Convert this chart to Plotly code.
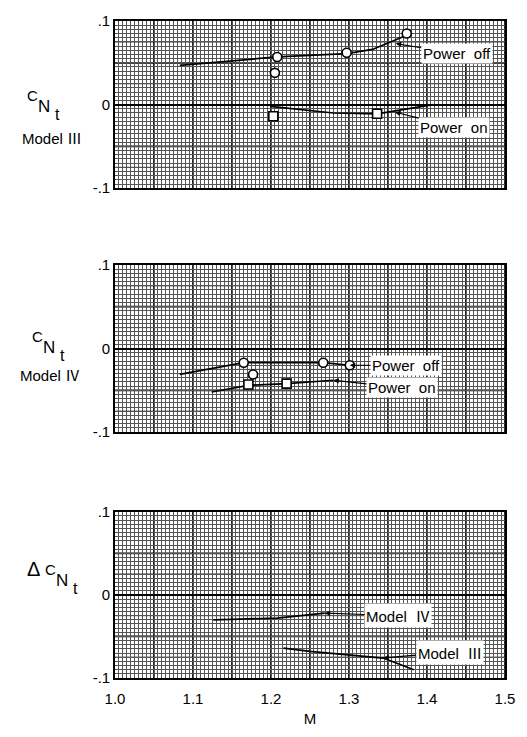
import numpy as np
import plotly.graph_objects as go

# ---------------- data ----------------
# Model III (top panel)
m3_off_line_M = [1.083, 1.13, 1.208, 1.297, 1.33, 1.374]
m3_off_line_C = [0.047, 0.051, 0.057, 0.061, 0.066, 0.083]
m3_off_pts_M = [1.208, 1.205, 1.297, 1.374]
m3_off_pts_C = [0.057, 0.038, 0.062, 0.085]
m3_on_line_M = [1.199, 1.237, 1.28, 1.336, 1.37, 1.408]
m3_on_line_C = [-0.002, -0.006, -0.010, -0.011, -0.006, 0.000]
m3_on_pts_M = [1.203, 1.336]
m3_on_pts_C = [-0.014, -0.011]

# Model IV (middle panel)
m4_off_line_M = [1.083, 1.10, 1.165, 1.267, 1.301]
m4_off_line_C = [-0.031, -0.028, -0.017, -0.017, -0.020]
m4_off_pts_M = [1.165, 1.177, 1.267, 1.301]
m4_off_pts_C = [-0.017, -0.031, -0.017, -0.020]
m4_on_line_M = [1.124, 1.171, 1.22, 1.28]
m4_on_line_C = [-0.052, -0.044, -0.042, -0.038]
m4_on_pts_M = [1.171, 1.22]
m4_on_pts_C = [-0.043, -0.042]

# Delta (bottom panel)
d4_M = [1.126, 1.208, 1.269]
d4_C = [-0.030, -0.028, -0.022]
d3_M = [1.216, 1.25, 1.344, 1.383]
d3_C = [-0.064, -0.068, -0.076, -0.090]

x_ticks = [1.0, 1.1, 1.2, 1.3, 1.4, 1.5]
x_tick_text = ["1.0", "1.1", "1.2", "1.3", "1.4", "1.5"]
y_ticks = [-0.1, 0.0, 0.1]
y_tick_text = ["-.1", "0", ".1"]

# ---------------- layout helpers ----------------
FONT = "Liberation Sans, Arial, sans-serif"
W, H = 527, 737
ML, MR, MT, MB = 115, 22, 20, 57
pw = W - ML - MR
ph = H - MT - MB
FINE = "#555555"


def pdom(top_px, bot_px):
    return [(H - MB - bot_px) / ph, (H - MB - top_px) / ph]


domains = [pdom(20, 188), pdom(265, 433), pdom(513, 680)]
axk = ["", "2", "3"]

fig = go.Figure()


def line(xs, ys, k):
    fig.add_trace(go.Scatter(x=xs, y=ys, mode="lines", xaxis=f"x{k}", yaxis=f"y{k}",
                             line=dict(color="black", width=1.7), showlegend=False,
                             hoverinfo="skip"))


def pts(xs, ys, k, sym):
    fig.add_trace(go.Scatter(x=xs, y=ys, mode="markers", xaxis=f"x{k}", yaxis=f"y{k}",
                             marker=dict(symbol=sym, size=9, color="white",
                                         line=dict(color="black", width=1.6)),
                             showlegend=False, hoverinfo="skip"))


line(m3_off_line_M, m3_off_line_C, "")
line(m3_on_line_M, m3_on_line_C, "")
pts(m3_off_pts_M, m3_off_pts_C, "", "circle")
pts(m3_on_pts_M, m3_on_pts_C, "", "square")

line(m4_off_line_M, m4_off_line_C, "2")
line(m4_on_line_M, m4_on_line_C, "2")
pts(m4_off_pts_M, m4_off_pts_C, "2", "circle")
pts(m4_on_pts_M, m4_on_pts_C, "2", "square")

line(d4_M, d4_C, "3")
line(d3_M, d3_C, "3")

for i, dom in enumerate(domains):
    k = axk[i]
    bottom = (i == 2)
    xa = dict(range=[1.0, 1.5], domain=[0, 1], anchor=f"y{k}",
              tickvals=x_ticks if bottom else [], ticktext=x_tick_text if bottom else [],
              showgrid=False,
              minor=dict(dtick=0.005, tick0=1.0, showgrid=True, gridcolor=FINE, gridwidth=1),
              showline=True, linecolor="black", linewidth=1.6, mirror=True,
              ticks="", zeroline=False, ticklabelstandoff=6,
              tickfont=dict(family=FONT, size=15, color="black"))
    ya = dict(range=[-0.1, 0.1], domain=dom, anchor=f"x{k}",
              tickvals=y_ticks, ticktext=y_tick_text,
              showgrid=True, gridcolor="black", gridwidth=1.7,
              minor=dict(dtick=0.005, tick0=0, showgrid=True, gridcolor=FINE, gridwidth=1),
              showline=True, linecolor="black", linewidth=1.6, mirror=True,
              zeroline=True, zerolinecolor="black", zerolinewidth=2.2,
              ticks="", tickfont=dict(family=FONT, size=15, color="black"))
    if bottom:
        xa["title"] = dict(text="M", font=dict(family=FONT, size=15, color="black"), standoff=8)
    fig.update_layout({f"xaxis{k}": xa, f"yaxis{k}": ya})

# medium / heavy grid lines
mid_x = np.round(np.arange(1.025, 1.5, 0.025), 4)
mid_y = np.round(np.arange(-0.075, 0.1, 0.025), 4)
shapes = []
for i in range(3):
    k = axk[i]
    for v in mid_x:
        heavy = abs(round(v / 0.05) * 0.05 - v) < 1e-6
        shapes.append(dict(type="line", xref=f"x{k}", yref=f"y{k} domain", x0=v, x1=v, y0=0, y1=1,
                           line=dict(color="black", width=1.7 if heavy else 1.0), layer="below"))
    for v in mid_y:
        if abs(v) < 1e-9:
            continue
        heavy = abs(round(v / 0.05) * 0.05 - v) < 1e-6
        shapes.append(dict(type="line", xref=f"x{k} domain", yref=f"y{k}", x0=0, x1=1, y0=v, y1=v,
                           line=dict(color="black", width=1.7 if heavy else 1.0), layer="below"))
fig.update_layout(shapes=shapes)

# ---------------- annotations ----------------
anns = []


def label(text, k, lx, ly, px, py):
    anns.append(dict(text=text, xref=f"x{k}", yref=f"y{k}", axref=f"x{k}", ayref=f"y{k}",
                     x=px, y=py, ax=lx, ay=ly, showarrow=True, arrowhead=2, arrowsize=0.9,
                     arrowwidth=1.2, arrowcolor="black", bgcolor="white", borderpad=1,
                     font=dict(family=FONT, size=15, color="black")))


ROMAN = "<span style='font-family:Noto Sans CJK SC'>{}</span>"
label("Power  off", "", 1.438, 0.061, 1.36, 0.073)
label("Power  on", "", 1.435, -0.027, 1.359, -0.009)
label("Power  off", "2", 1.373, -0.020, 1.301, -0.020)
label("Power  on", "2", 1.368, -0.047, 1.28, -0.038)
label("Model  " + ROMAN.format("Ⅳ"), "3", 1.363, -0.025, 1.269, -0.022)
label("Model  " + ROMAN.format("Ⅲ"), "3", 1.429, -0.069, 1.344, -0.076)


def side(text, px, py, size=15):
    anns.append(dict(text=text, xref="paper", yref="paper",
                     x=(px - ML) / pw, y=(H - MB - py) / ph,
                     xanchor="center", yanchor="middle",
                     showarrow=False, font=dict(family=FONT, size=size, color="black")))


def cnt_label(cx, cy):
    # C raised, N lower, t lowest (hand-lettered style)
    side("C", cx, cy, 15)
    side("N", cx + 12, cy + 11, 17)
    side("t", cx + 25, cy + 19, 16)


cnt_label(32, 95)
side("Model " + ROMAN.format("Ⅲ"), 52, 137, 15)
cnt_label(37, 337)
side("Model " + ROMAN.format("Ⅳ"), 50, 375, 15)
side("Δ", 33, 571, 20)
cnt_label(50, 571)

fig.update_layout(annotations=anns, width=W, height=H,
                  margin=dict(l=ML, r=MR, t=MT, b=MB),
                  plot_bgcolor="white", paper_bgcolor="white", showlegend=False)

fig.write_html("out.html")
